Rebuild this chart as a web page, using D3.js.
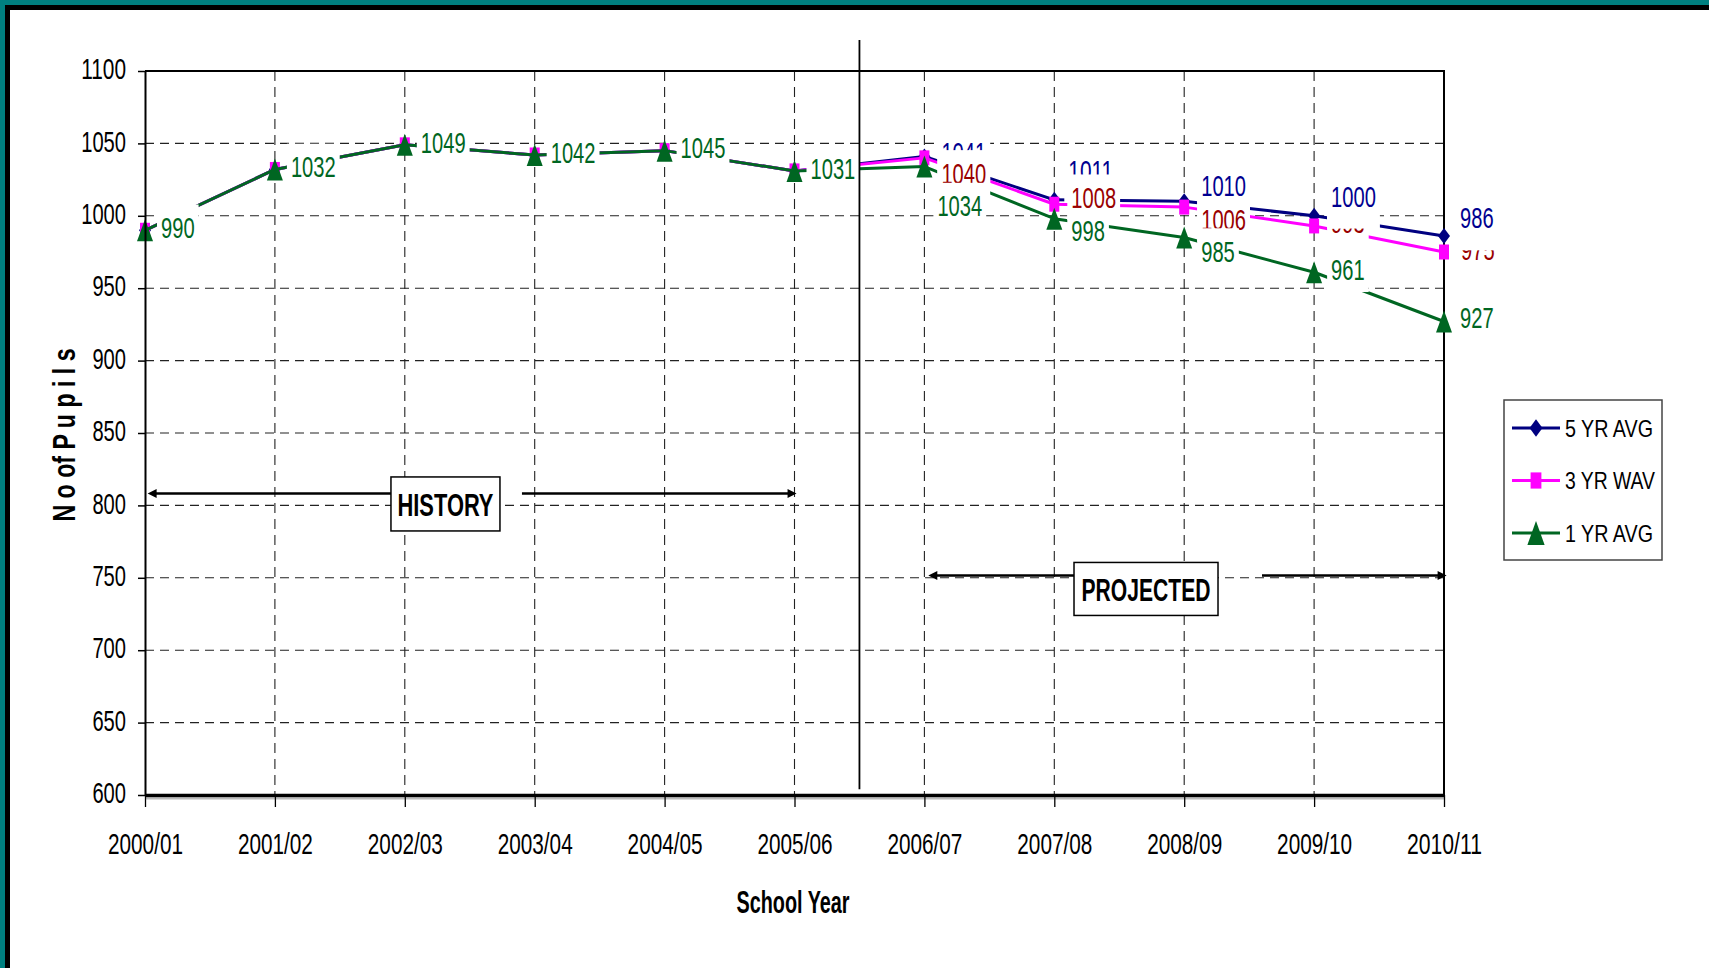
<!DOCTYPE html>
<html><head><meta charset="utf-8">
<script src="https://cdn.jsdelivr.net/npm/d3@7"></script>
<style>html,body{margin:0;padding:0;background:#fff;overflow:hidden}svg{display:block}</style>
</head><body><svg id="c" width="1709" height="968"></svg>
<script>
// ---------------- DATA ----------------
const categories = ["2000/01","2001/02","2002/03","2003/04","2004/05","2005/06","2006/07","2007/08","2008/09","2009/10","2010/11"];
const yTickValues = [600,650,700,750,800,850,900,950,1000,1050,1100];
const fiveYrAvg  = [990,1032,1049,1042,1045,1031,1041,1011,1010,1000,986];
const threeYrWav = [990,1032,1049,1042,1045,1031,1040,1008,1006,993,975];
const oneYrAvg   = [990,1032,1049,1042,1045,1031,1034,998,985,961,927];
const seriesNames = ["5 YR AVG","3 YR WAV","1 YR AVG"];
const historyLabel = "HISTORY";
const projectedLabel = "PROJECTED";
const xTitle = "School Year";
const yTitle = "N o of P u p i l s";

// ---------------- STYLE / LAYOUT ----------------
const W = 1709, H = 968;
const NARROW = "'Liberation Sans Narrow','Arial Narrow','Liberation Sans',Arial,sans-serif";
const series = [
  {name: seriesNames[0], values: fiveYrAvg,  line: "#000080", label: "#000090", marker: "diamond", firstLabel: 6},
  {name: seriesNames[1], values: threeYrWav, line: "#ff00ff", label: "#990000", marker: "square",  firstLabel: 6},
  {name: seriesNames[2], values: oneYrAvg,   line: "#006622", label: "#006622", marker: "triangle",firstLabel: 0}
];
// label nudges (dx from marker to text left, dy from marker to text centre)
const nudges = [
  i => [[0,0],[0,0],[0,0],[0,0],[0,0],[0,0],[17,-4],[14,-30],[17,-16],[17,-20],[16,-18.5]][i],
  i => [[0,0],[0,0],[0,0],[0,0],[0,0],[0,0],[17,15],[17,-7],[17,12],[17,-3.5],[17,-2.5]][i],
  i => i < 6 ? [16,-3] : [[13,39],[17,12],[17,13.5],[17,-3],[16,-4.5]][i-6]
];

const svg = d3.select("#c");
svg.append("rect").attr("width",W).attr("height",H).attr("fill","#fff");

const x = d3.scalePoint().domain(categories).range([145,1444]);
const y = d3.scaleLinear().domain([600,1100]).range([795,71]);
const xi = d3.scaleLinear().domain([0, categories.length-1]).range(x.range());
const [X0, X1] = x.range();

// digit-based width for condensed numeric text
function numWidth(s){ let w=0; for (const c of s) w += (c==="/"?7.8:11.2); return w; }
function fit(sel, w){ sel.attr("textLength", w).attr("lengthAdjust","spacingAndGlyphs"); }

// frame (teal + black border)
svg.append("rect").attr("x",0).attr("y",0).attr("width",W).attr("height",6).attr("fill","#008080");
svg.append("rect").attr("x",0).attr("y",0).attr("width",6).attr("height",H).attr("fill","#008080");
svg.append("rect").attr("x",6).attr("y",5).attr("width",W-6).attr("height",5).attr("fill","#000");
svg.append("rect").attr("x",5).attr("y",5).attr("width",5).attr("height",H-5).attr("fill","#000");

// grid
const grid = svg.append("g");
grid.selectAll("line.h").data(yTickValues.filter(v => v>600 && v<1100)).join("line")
  .attr("x1",X0).attr("x2",X1).attr("y1",d=>y(d)).attr("y2",d=>y(d))
  .attr("stroke","#222").attr("stroke-width",1.1).attr("stroke-dasharray","9,6");
grid.selectAll("line.v").data(categories.slice(1,-1)).join("line")
  .attr("x1",d=>x(d)).attr("x2",d=>x(d)).attr("y1",y(1100)).attr("y2",y(600))
  .attr("stroke","#222").attr("stroke-width",1.1).attr("stroke-dasharray","10,6");
// top & right borders
svg.append("line").attr("x1",X0).attr("x2",X1+1).attr("y1",y(1100)).attr("y2",y(1100)).attr("stroke","#000").attr("stroke-width",2);
svg.append("line").attr("x1",X1).attr("x2",X1).attr("y1",y(1100)).attr("y2",y(600)).attr("stroke","#000").attr("stroke-width",2);

// marker paths (taller than wide, as in the reference)
function markerPath(type, s){
  const k = s || 1;
  if (type==="diamond"){ const w=6*k,h=8*k; return `M0,${-h}L${w},0L0,${h}L${-w},0Z`; }
  if (type==="square"){ const w=5*k,h=7.5*k; return `M${-w},${-h}H${w}V${h}H${-w}Z`; }
  const w=8*k,h=11*k; return `M0,${-h}L${w},${h}L${-w},${h}Z`;
}

// lines and markers
const line = d3.line().x((d,i)=>x(categories[i])).y(d=>y(d));
series.forEach(s => {
  const g = svg.append("g");
  g.append("path").attr("d", line(s.values)).attr("fill","none").attr("stroke", s.line).attr("stroke-width",3).attr("stroke-linejoin","round");
  g.selectAll("path.m").data(s.values).join("path")
    .attr("d", markerPath(s.marker))
    .attr("transform",(d,i)=>`translate(${x(categories[i])},${y(d)})`)
    .attr("fill", s.marker==="square" ? "#ff00ff" : s.line);
});

// data labels with white boxes
const labelLayer = svg.append("g");
const FS = 30;
categories.forEach((c,i) => {
  const order = i >= 9 ? [1,0,2] : [0,1,2];
  order.forEach(si => {
    const s = series[si];
    if (i < s.firstLabel) return;
    const v = s.values[i];
    const [dx,dy] = nudges[si](i);
    const txt = String(v);
    const w = numWidth(txt);
    const lx = x(c) + dx, cy = y(v) + dy;
    const half = 10.75;
    const padB = si===0 ? 22 : 12;
    labelLayer.append("rect").attr("x",lx-4).attr("y",cy-half-12).attr("width",w+8).attr("height",2*half+12+padB).attr("fill","#fff");
    labelLayer.append("text").attr("x",lx).attr("y",cy+half).text(txt)
      .attr("font-family",NARROW).attr("font-size",FS).attr("fill",s.label).call(fit,w);
  });
});

// separator between history and projection
svg.append("line").attr("x1",xi(5.5)).attr("x2",xi(5.5)).attr("y1",y(1121.4)).attr("y2",y(604))
  .attr("stroke","#000").attr("stroke-width",1.8);

// axes
const yAxis = svg.append("g").attr("transform",`translate(${X0},0)`)
  .call(d3.axisLeft(y).tickValues(yTickValues).tickFormat(d3.format("d")).tickSize(7).tickSizeOuter(0).tickPadding(12));
yAxis.select(".domain").attr("stroke","#000").attr("stroke-width",2);
yAxis.selectAll(".tick line").attr("stroke","#000").attr("stroke-width",1.5);
yAxis.selectAll(".tick text").attr("font-family",NARROW).attr("font-size",FS).attr("fill","#000").attr("dy",7.75)
  .each(function(d){ d3.select(this).call(fit, numWidth(String(d))); });

svg.append("line").attr("x1",X0).attr("x2",X1).attr("y1",y(600)+3.5).attr("y2",y(600)+3.5).attr("stroke","#bbb").attr("stroke-width",2);
const xAxis = svg.append("g").attr("transform",`translate(0,${y(600)})`)
  .call(d3.axisBottom(x).tickSize(12).tickSizeOuter(0).tickPadding(0));
xAxis.select(".domain").attr("stroke","#000").attr("stroke-width",3.5);
xAxis.selectAll(".tick line").attr("stroke","#000").attr("stroke-width",1.3);
xAxis.selectAll(".tick text").attr("font-family",NARROW).attr("font-size",FS).attr("fill","#000")
  .attr("y",59).attr("dy",0)
  .each(function(d){ d3.select(this).call(fit, numWidth(d)); });

// axis titles
svg.append("text").attr("x",(X0+X1)/2 - 1.5).attr("y",913).attr("text-anchor","middle")
  .attr("font-family",NARROW).attr("font-weight","bold").attr("font-size",32).text(xTitle).call(fit,113);
svg.append("text").attr("transform","translate(75,435) rotate(-90)").attr("text-anchor","middle")
  .attr("font-family",NARROW).attr("font-weight","bold").attr("font-size",32).text(yTitle).call(fit,173);

// annotations: arrows + boxes
function arrowHead(g, tipX, yy, dir){
  g.append("path").attr("d",`M${tipX},${yy}L${tipX-dir*9},${yy-4.5}L${tipX-dir*9},${yy+4.5}Z`).attr("fill","#000");
}
function annotation(label, fromIdx, toIdx, arrowVal, boxCx, boxCyVal, boxW, boxH, textW, gapRight){
  const g = svg.append("g");
  const ay = y(arrowVal);
  const bx0 = xi(boxCx) - boxW/2, bx1 = xi(boxCx) + boxW/2, by = y(boxCyVal);
  const ax0 = xi(fromIdx), ax1 = xi(toIdx);
  g.append("line").attr("x1",ax0+4).attr("x2",bx0).attr("y1",ay).attr("y2",ay).attr("stroke","#000").attr("stroke-width",2.5);
  g.append("line").attr("x1",bx1+gapRight).attr("x2",ax1-4).attr("y1",ay).attr("y2",ay).attr("stroke","#000").attr("stroke-width",2.5);
  arrowHead(g, ax0, ay, -1);
  arrowHead(g, ax1, ay, 1);
  g.append("rect").attr("x",bx0).attr("y",by-boxH/2).attr("width",boxW).attr("height",boxH)
    .attr("fill","#fff").attr("stroke","#000").attr("stroke-width",1.5);
  g.append("text").attr("x",xi(boxCx)).attr("y",by+11.7).attr("text-anchor","middle")
    .attr("font-family",NARROW).attr("font-weight","bold").attr("font-size",32).text(label).call(fit,textW);
}
annotation(historyLabel, 0.02, 5.016, 808.3, 2.313, 801, 109, 54, 96, 22);
annotation(projectedLabel, 6.03, 10.02, 751.6, 7.706, 742.3, 144, 53, 129, 44);

// legend
const lg = svg.append("g").attr("transform","translate(1504,400)");
lg.append("rect").attr("width",158).attr("height",160).attr("fill","#fff").attr("stroke","#444").attr("stroke-width",1.5);
const legW = [88,90,88];
series.forEach((s,k) => {
  const cy = 28 + k*52.5;
  lg.append("line").attr("x1",8).attr("x2",56).attr("y1",cy).attr("y2",cy).attr("stroke",s.line).attr("stroke-width",3);
  lg.append("path").attr("d",markerPath(s.marker,1.08)).attr("transform",`translate(32,${cy})`).attr("fill", s.marker==="square" ? "#ff00ff" : s.line);
  lg.append("text").attr("x",61).attr("y",cy+8.6).attr("font-family",NARROW).attr("font-size",24).attr("fill","#000")
    .text(s.name).call(fit, legW[k]);
});
</script>
</body></html>
